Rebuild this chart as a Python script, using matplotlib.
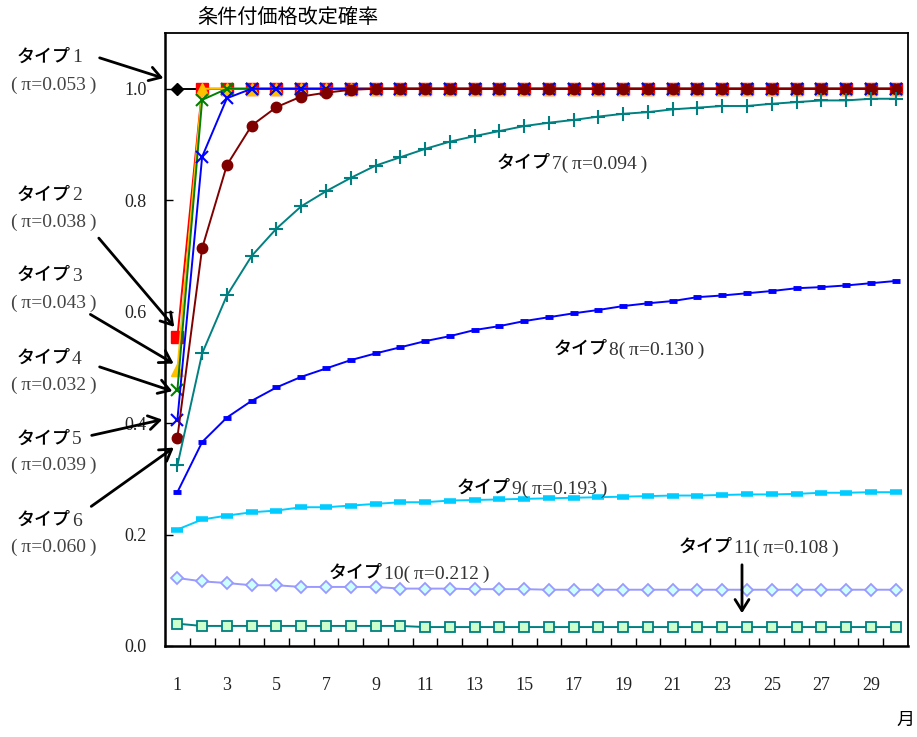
import matplotlib
matplotlib.use('Agg')
import matplotlib.pyplot as plt
from matplotlib.ticker import FixedLocator

W, H = 917, 737
JP = 'Noto Sans CJK JP'
SERIF = 'Liberation Serif'

# 月 (1..30)
months = list(range(1, 31))

# 条件付価格改定確率 by type
type1 = [1.0, 1.0, 1.0, 1.0, 1.0, 1.0, 1.0, 1.0, 1.0, 1.0, 1.0, 1.0, 1.0, 1.0, 1.0,
         1.0, 1.0, 1.0, 1.0, 1.0, 1.0, 1.0, 1.0, 1.0, 1.0, 1.0, 1.0, 1.0, 1.0, 1.0]
type2 = [0.554, 1.0, 1.0, 1.0, 1.0, 1.0, 1.0, 1.0, 1.0, 1.0, 1.0, 1.0, 1.0, 1.0, 1.0,
         1.0, 1.0, 1.0, 1.0, 1.0, 1.0, 1.0, 1.0, 1.0, 1.0, 1.0, 1.0, 1.0, 1.0, 1.0]
type3 = [0.496, 1.0, 1.0, 1.0, 1.0, 1.0, 1.0, 1.0, 1.0, 1.0, 1.0, 1.0, 1.0, 1.0, 1.0,
         1.0, 1.0, 1.0, 1.0, 1.0, 1.0, 1.0, 1.0, 1.0, 1.0, 1.0, 1.0, 1.0, 1.0, 1.0]
type4 = [0.459, 0.980, 1.0, 1.0, 1.0, 1.0, 1.0, 1.0, 1.0, 1.0, 1.0, 1.0, 1.0, 1.0, 1.0,
         1.0, 1.0, 1.0, 1.0, 1.0, 1.0, 1.0, 1.0, 1.0, 1.0, 1.0, 1.0, 1.0, 1.0, 1.0]
type5 = [0.406, 0.878, 0.983, 1.0, 1.0, 1.0, 1.0, 1.0, 1.0, 1.0, 1.0, 1.0, 1.0, 1.0, 1.0,
         1.0, 1.0, 1.0, 1.0, 1.0, 1.0, 1.0, 1.0, 1.0, 1.0, 1.0, 1.0, 1.0, 1.0, 1.0]
type6 = [0.374, 0.714, 0.863, 0.934, 0.967, 0.986, 0.993, 0.998, 1.0, 1.0, 1.0, 1.0,
         1.0, 1.0, 1.0, 1.0, 1.0, 1.0, 1.0, 1.0, 1.0, 1.0, 1.0, 1.0, 1.0, 1.0, 1.0, 1.0,
         1.0, 1.0]
type7 = [0.324, 0.525, 0.629, 0.700, 0.749, 0.789, 0.816, 0.840, 0.862, 0.877, 0.892,
         0.905, 0.915, 0.924, 0.933, 0.939, 0.944, 0.950, 0.955, 0.958, 0.963, 0.966,
         0.969, 0.969, 0.973, 0.976, 0.979, 0.979, 0.982, 0.982]
type8 = [0.276, 0.366, 0.410, 0.440, 0.464, 0.483, 0.498, 0.513, 0.525, 0.536, 0.547,
         0.556, 0.567, 0.574, 0.583, 0.590, 0.597, 0.603, 0.610, 0.615, 0.619, 0.626,
         0.629, 0.633, 0.637, 0.642, 0.644, 0.647, 0.651, 0.655]
type9 = [0.209, 0.227, 0.234, 0.240, 0.243, 0.249, 0.249, 0.252, 0.255, 0.258, 0.258,
         0.261, 0.262, 0.263, 0.264, 0.265, 0.266, 0.267, 0.268, 0.269, 0.270, 0.270,
         0.271, 0.272, 0.272, 0.273, 0.275, 0.275, 0.276, 0.276]
type10 = [0.122, 0.116, 0.113, 0.109, 0.109, 0.106, 0.106, 0.106, 0.106, 0.103, 0.103,
          0.103, 0.102, 0.102, 0.102, 0.101, 0.101, 0.101, 0.101, 0.101, 0.101, 0.101,
          0.101, 0.101, 0.101, 0.101, 0.101, 0.101, 0.101, 0.101]
type11 = [0.040, 0.036, 0.036, 0.036, 0.036, 0.036, 0.036, 0.036, 0.036, 0.036, 0.034,
          0.034, 0.034, 0.034, 0.034, 0.034, 0.034, 0.034, 0.034, 0.034, 0.034, 0.034,
          0.034, 0.034, 0.034, 0.034, 0.034, 0.034, 0.034, 0.034]

type_nums = ['1', '2', '3', '4', '5', '6', '7', '8', '9', '10', '11']
pi_vals = ['0.053', '0.038', '0.043', '0.032', '0.039', '0.060',
           '0.094', '0.130', '0.193', '0.212', '0.108']

xtick_labels = ['1', '3', '5', '7', '9', '11', '13', '15', '17', '19', '21', '23',
                '25', '27', '29']
ytick_vals = [0.0, 0.2, 0.4, 0.6, 0.8, 1.0]

fig = plt.figure(figsize=(W / 100, H / 100), dpi=100)
ax = fig.add_axes([165 / W, 1 - 646 / H, (908 - 165) / W, (646 - 33) / H])

series = [
    (type1, dict(color='black', marker='D', ms=6.5, mfc='black', mec='black')),
    (type2, dict(color='#FF0000', marker='s', ms=8, mfc='#FF0000', mec='#FF0000')),
    (type3, dict(color='#FFC000', marker='^', ms=8.5, mfc='#FFC000', mec='#FFC000')),
    (type4, dict(color='#008000', marker='x', ms=8, mew=1.5)),
    (type5, dict(color='#0000FF', marker='x', ms=8, mew=1.5)),
    (type6, dict(color='#800000', marker='o', ms=7.5, mfc='#800000', mec='#800000')),
    (type7, dict(color='#008080', marker='+', ms=10, mew=1.5)),
    (type8, dict(color='#0000FF', marker='_', ms=6, mew=3.5)),
    (type9, dict(color='#00CCFF', marker='_', ms=8, mew=4)),
    (type10, dict(color='#9999FF', marker='D', ms=6.5, mfc='#CCFFFF', mec='#9999FF', mew=1.3)),
    (type11, dict(color='#008080', marker='s', ms=7, mfc='#CCFFCC', mec='#008080', mew=1.3)),
]
for vals, style in series:
    ax.plot(months, vals, lw=1.4, clip_on=False, **style)

ax.set_xlim(0.5, 30.5)
ax.set_ylim(0, 1.1)

ax.set_xticks(months[::2])
ax.set_xticklabels(xtick_labels, fontfamily=SERIF, fontsize=13, color='#222222')
ax.xaxis.set_minor_locator(FixedLocator([m + 0.5 for m in months[:-1]]))
ax.tick_params(axis='x', which='major', length=0, pad=22)
ax.tick_params(axis='x', which='minor', direction='in', length=6, width=1)

ax.set_yticks(ytick_vals)
ax.set_yticklabels(['%.1f' % v for v in ytick_vals], fontfamily=SERIF, fontsize=13,
                   color='#222222')
ax.tick_params(axis='y', direction='in', length=6, width=1, pad=13)

for side in ['left', 'bottom']:
    ax.spines[side].set_linewidth(1.8)
for side in ['top', 'right']:
    ax.spines[side].set_linewidth(1.3)


def fp(x, y):
    return (x / W, 1 - y / H)


def type_label(x, y, num, pi):
    # katakana part in gothic, number and π part in serif
    fig.text(*fp(x, y), 'タイプ', ha='right', va='center', fontfamily=JP,
             fontsize=13, fontweight='medium')
    fig.text(*fp(x + 1, y + 1), num + '(\u2009π=%s\u2009)' % pi, ha='left',
             va='center', fontfamily=SERIF, fontsize=14, color='#333333')


def side_label(cx, y1, y2, num, pi):
    fig.text(*fp(cx + 17, y1), 'タイプ', ha='right', va='center', fontfamily=JP,
             fontsize=13, fontweight='medium')
    fig.text(*fp(cx + 18, y1 + 1), num, ha='left', va='center', fontfamily=SERIF,
             fontsize=14, color='#333333')
    fig.text(*fp(cx, y2), '(\u2009π=%s\u2009)' % pi, ha='center', va='center',
             fontfamily=SERIF, fontsize=14, color='#444444')


# labels and arrows on the left side
left_rows = [(57, 85), (195, 222), (275, 303), (358, 385), (439, 465), (520, 547)]
arrows = [((97, 57), (166, 79)), ((97, 236), (176, 329)), ((88, 313), (176, 365)),
          ((97, 366), (175, 392)), ((89, 436), (165, 419)), ((89, 508), (176, 446))]
for i, (y1, y2) in enumerate(left_rows):
    side_label(54, y1, y2, type_nums[i], pi_vals[i])
    (sx, sy), (ex, ey) = arrows[i]
    fig.add_artist(matplotlib.patches.FancyArrowPatch(
        fp(sx, sy), fp(ex, ey), transform=fig.transFigure,
        arrowstyle='->,head_length=8,head_width=5', color='black', lw=2,
        mutation_scale=1))

# labels inside the plot
inner = [(6, 551, 163), (7, 608, 349), (8, 511, 488), (9, 383, 573), (10, 733, 547)]
for idx, x, y in inner:
    type_label(x, y, type_nums[idx], pi_vals[idx])

fig.add_artist(matplotlib.patches.FancyArrowPatch(
    fp(742, 562), fp(742, 616), transform=fig.transFigure,
    arrowstyle='->,head_length=8,head_width=5', color='black', lw=2,
    mutation_scale=1))

fig.text(*fp(197, 17), '条件付価格改定確率', ha='left', va='center', fontfamily=JP,
         fontsize=14.5)
fig.text(*fp(905, 720), '月', ha='center', va='center', fontfamily=JP, fontsize=13)

fig.savefig('out.png', dpi=100)
